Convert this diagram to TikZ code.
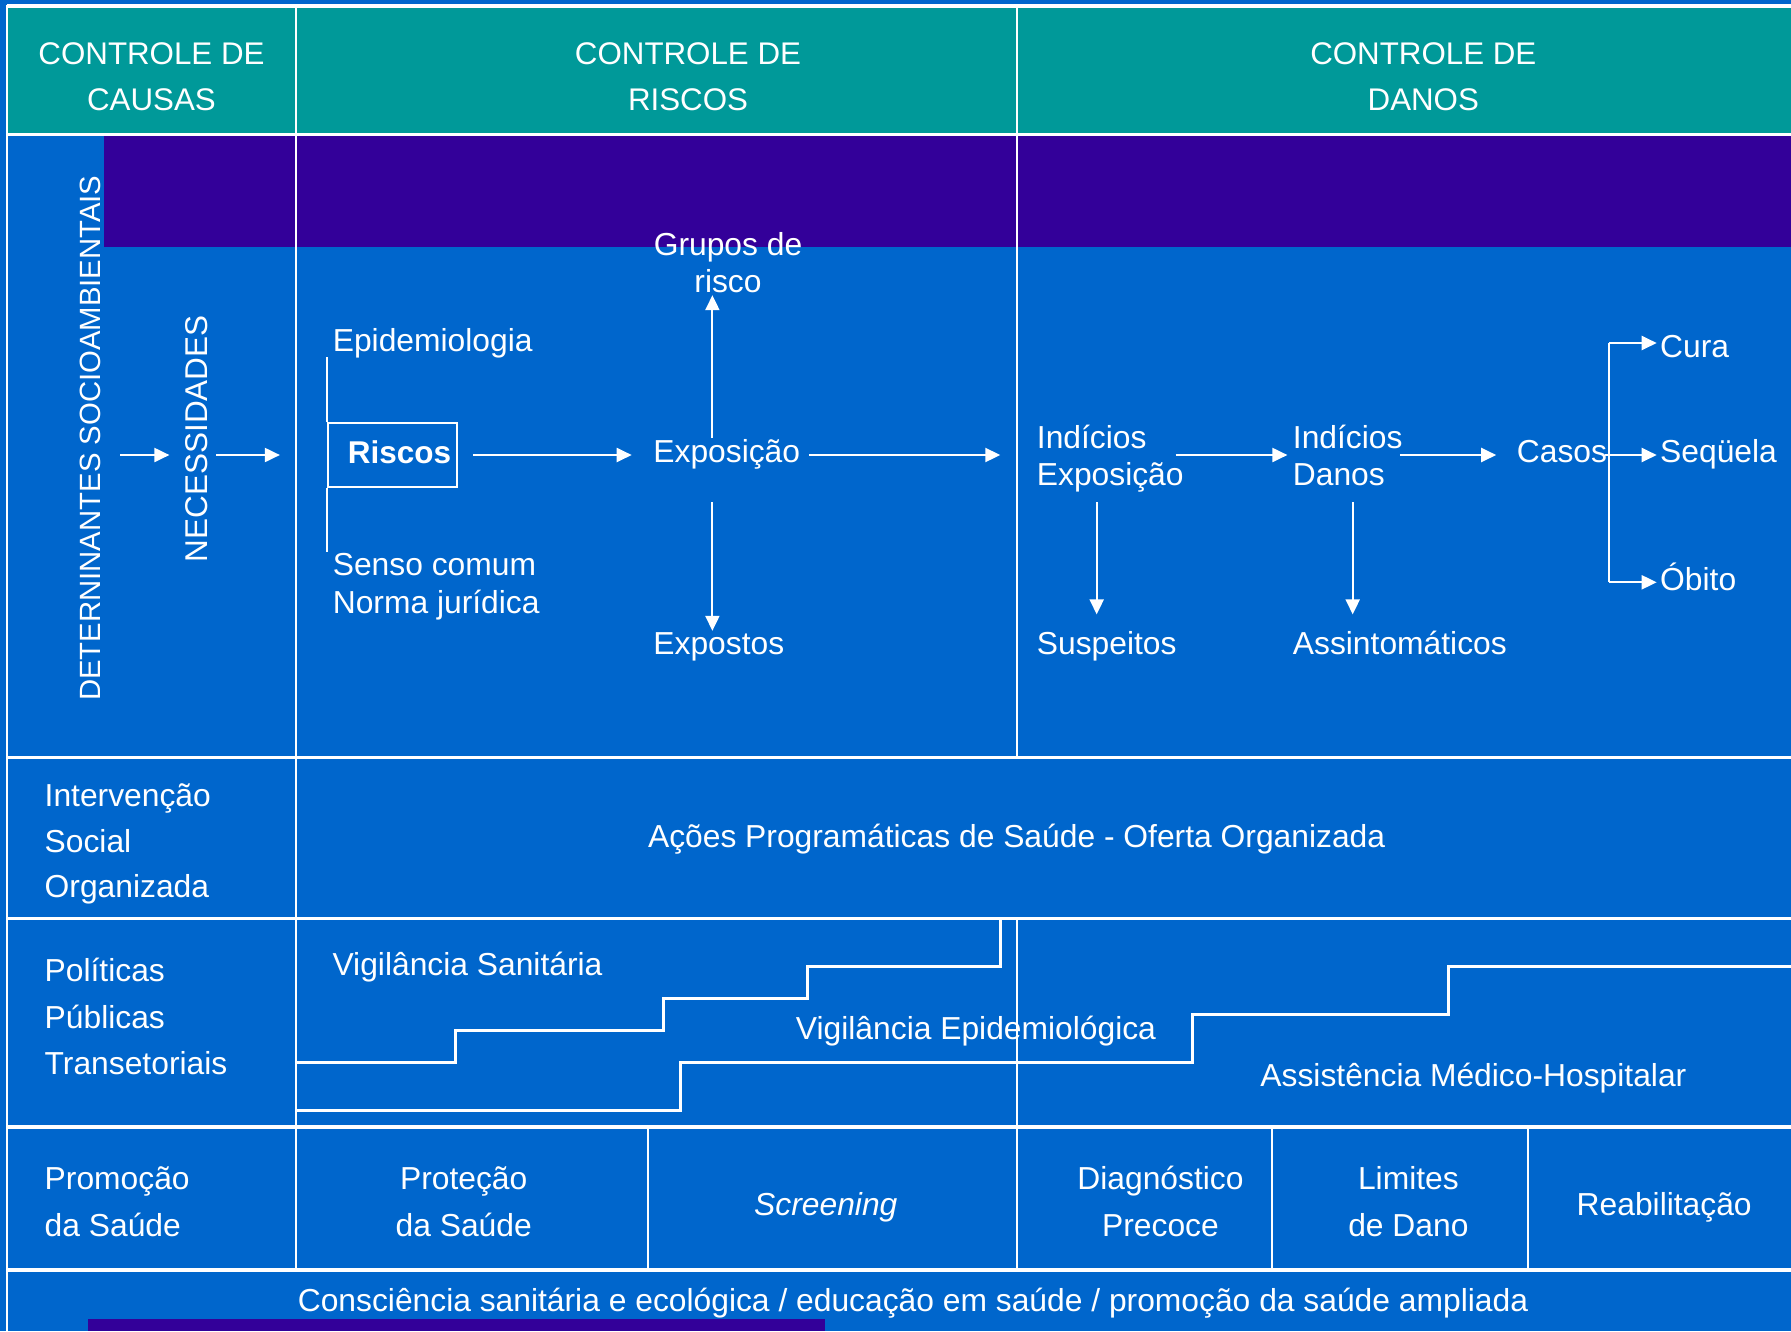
\documentclass[tikz,border=0pt]{standalone}
\usepackage{fontspec}
\setmainfont{Liberation Sans}
\usetikzlibrary{arrows.meta}
\definecolor{headteal}{RGB}{0,153,153}
\definecolor{bandpurple}{RGB}{51,0,153}
\definecolor{mainblue}{RGB}{0,102,204}
\begin{document}
\begin{tikzpicture}[x=1pt,y=-1pt,
  txt/.style={text=white, inner sep=0pt, font=\fontsize{31.8}{45.7}\selectfont},
  hdr/.style={text=white, inner sep=0pt, align=center, font=\fontsize{31.3}{46}\selectfont},
  hline/.style={draw=white, line width=3.5pt},
  vline/.style={draw=white, line width=2pt},
  stair/.style={draw=white, line width=3.5pt},
  conn/.style={draw=white, line width=2pt},
  arr/.style={draw=white, line width=2pt, -{Triangle[length=15pt,width=14pt]}},
]
\useasboundingbox (0,0) rectangle (1791,1331);
% backgrounds
\fill[mainblue] (0,0) rectangle (1791,1331);
\fill[headteal] (7,6) rectangle (1791,134.5);
\fill[bandpurple] (104,134.5) rectangle (1791,247);
\fill[bandpurple] (88,1319) rectangle (825,1331);
% table lines
\draw[vline] (7,5) -- (7,1331);
\draw[vline] (296,6) -- (296,1270);
\draw[vline] (1016.6,6) -- (1016.6,757.3);
\draw[vline] (1016.6,918.5) -- (1016.6,1270);
\draw[vline] (647.6,1127) -- (647.6,1270);
\draw[vline] (1272.4,1127) -- (1272.4,1270);
\draw[vline] (1528.3,1127) -- (1528.3,1270);
\draw[hline] (7,6) -- (1791,6);
\draw[hline] (7,134.5) -- (1791,134.5);
\draw[hline] (7,757.3) -- (1791,757.3);
\draw[hline] (7,918.5) -- (1791,918.5);
\draw[hline] (7,1127) -- (1791,1127);
\draw[hline] (7,1270) -- (1791,1270);
% stairs
\draw[stair] (296,1062.7) -| (455.7,1030.7) -| (663.6,998.7) -| (807.5,966.7) -| (1000.6,918.5);
\draw[stair] (296,1110.7) -| (680.7,1062.7) -| (1192.5,1014.7) -| (1448.3,966.7) -- (1791,966.7);

% headers (base anchor = baseline of the last line)
\node[hdr, anchor=base] (hcausas) at (151.5,110) {CONTROLE DE\\CAUSAS};
\node[hdr, anchor=base] (hriscos) at (688,110) {CONTROLE DE\\RISCOS};
\node[hdr, anchor=base] (hdanos) at (1423.3,110) {CONTROLE DE\\DANOS};

% first column
\node[txt, font=\fontsize{29.3}{35}\selectfont, rotate=90, anchor=base] (det) at (100.4,438.2) {DETERNINANTES SOCIOAMBIENTAIS};
\node[txt, font=\fontsize{31.5}{35}\selectfont, rotate=90, anchor=base] (nec) at (207.6,438.7) {NECESSIDADES};
\coordinate (row) at (0,455);
\draw[arr] ([xshift=19.2pt]det.south |- row) -- ([xshift=-16pt]nec.north |- row);
\draw[arr] ([xshift=8pt]nec.south |- row) -- (279.9,455);

% riscos
\node[draw=white, line width=2pt, minimum width=128.6pt, minimum height=64pt, inner sep=0pt] (ris) at (392.4,455) {};
\node[txt, font=\fontsize{31.5}{40}\selectfont\bfseries, anchor=base] (ristxt) at (399.5,463.3) {Riscos};
\node[txt, anchor=base west] (epi) at (332.6,351.4) {Epidemiologia};
\node[txt, anchor=base west, align=left, font=\fontsize{31.8}{38.2}\selectfont] (senso) at (332.6,613.4) {Senso comum\\Norma jurídica};
\draw[conn] (ris.north west) -- ++(0,-64.6);
\draw[conn] (ris.south west) -- ++(0,64.2);

\node[txt, anchor=base west] (expo) at (653.2,462.5) {Exposição};
\node[txt, anchor=base, align=center, font=\fontsize{31.8}{37.4}\selectfont] (grupos) at (728,292.7) {Grupos de\\risco};
\node[txt, anchor=base west] (expostos) at (653.2,654.4) {Expostos};
\draw[arr] ([xshift=15.2pt]ris.east) -- (631.7,455);
\draw[arr] (712.4,438) -- (712.4,295.2);
\draw[arr] (712.4,502.4) -- (712.4,630.8);

% danos
\node[txt, anchor=base west, align=left, font=\fontsize{31.8}{37}\selectfont] (iexp) at (1036.7,485.3) {Indícios\\Exposição};
\node[txt, anchor=base west, align=left, font=\fontsize{31.8}{37}\selectfont] (idan) at (1292.7,485.3) {Indícios\\Danos};
\node[txt, anchor=base west] (casos) at (1516.7,462.5) {Casos};
\node[txt, anchor=base west] (cura) at (1660,357.4) {Cura};
\node[txt, anchor=base west] (seq) at (1660,462.5) {Seqüela};
\node[txt, anchor=base west] (obito) at (1660,590.8) {Óbito};
\node[txt, anchor=base west] (susp) at (1036.7,654.4) {Suspeitos};
\node[txt, anchor=base west] (assin) at (1292.7,654.4) {Assintomáticos};
\draw[arr] (808.9,455) -- (1000.3,455);
\draw[arr] (1175.7,455) -- (1287.4,455);
\draw[arr] (1399.8,455) -- (1496.2,455);
\draw[arr] (1096.7,502.4) -- (1096.7,614.4);
\draw[arr] (1352.7,502.4) -- (1352.7,614.4);
\coordinate (br) at (1609,455);
\draw[conn] (1609,343) -- (1609,582.3);
\draw[conn] (1605,455) -- (br);
\draw[arr] (1609,343) -- (1656.7,343);
\draw[arr] (br) -- (1656.7,455);
\draw[arr] (1609,582.3) -- (1656.7,582.3);

% rows
\node[txt, anchor=base west, align=left] (interv) at (44.5,897.8) {Intervenção\\Social\\Organizada};
\node[txt, anchor=base] (acoes) at (1016.6,847.5) {Ações Programáticas de Saúde - Oferta Organizada};
\node[txt, anchor=base west, align=left, font=\fontsize{31.8}{46.3}\selectfont] (polit) at (44.5,1074.3) {Políticas\\Públicas\\Transetoriais};
\node[txt, anchor=base west] (vsan) at (332.4,975) {Vigilância Sanitária};
\node[txt, anchor=base] (vepi) at (976,1039) {Vigilância Epidemiológica};
\node[txt, anchor=base] (amh) at (1473.4,1086.7) {Assistência Médico-Hospitalar};
\node[txt, anchor=base west, align=left, font=\fontsize{31.8}{46.7}\selectfont] (promo) at (44.5,1236) {Promoção\\da Saúde};
\node[txt, anchor=base, align=center, font=\fontsize{31.8}{46.7}\selectfont] (prot) at (463.7,1236) {Proteção\\da Saúde};
\node[txt, anchor=base, font=\fontsize{31.8}{46.7}\selectfont\itshape] (scr) at (825.8,1215) {Screening};
\node[txt, anchor=base, align=center, font=\fontsize{31.8}{46.7}\selectfont] (diag) at (1160.5,1236) {Diagnóstico\\Precoce};
\node[txt, anchor=base, align=center, font=\fontsize{31.8}{46.7}\selectfont] (lim) at (1408.4,1236) {Limites\\de Dano};
\node[txt, anchor=base] (reab) at (1664.2,1215) {Reabilitação};
\node[txt, anchor=base] (consc) at (913,1311) {Consciência sanitária e ecológica / educação em saúde / promoção da saúde ampliada};
\end{tikzpicture}
\end{document}
